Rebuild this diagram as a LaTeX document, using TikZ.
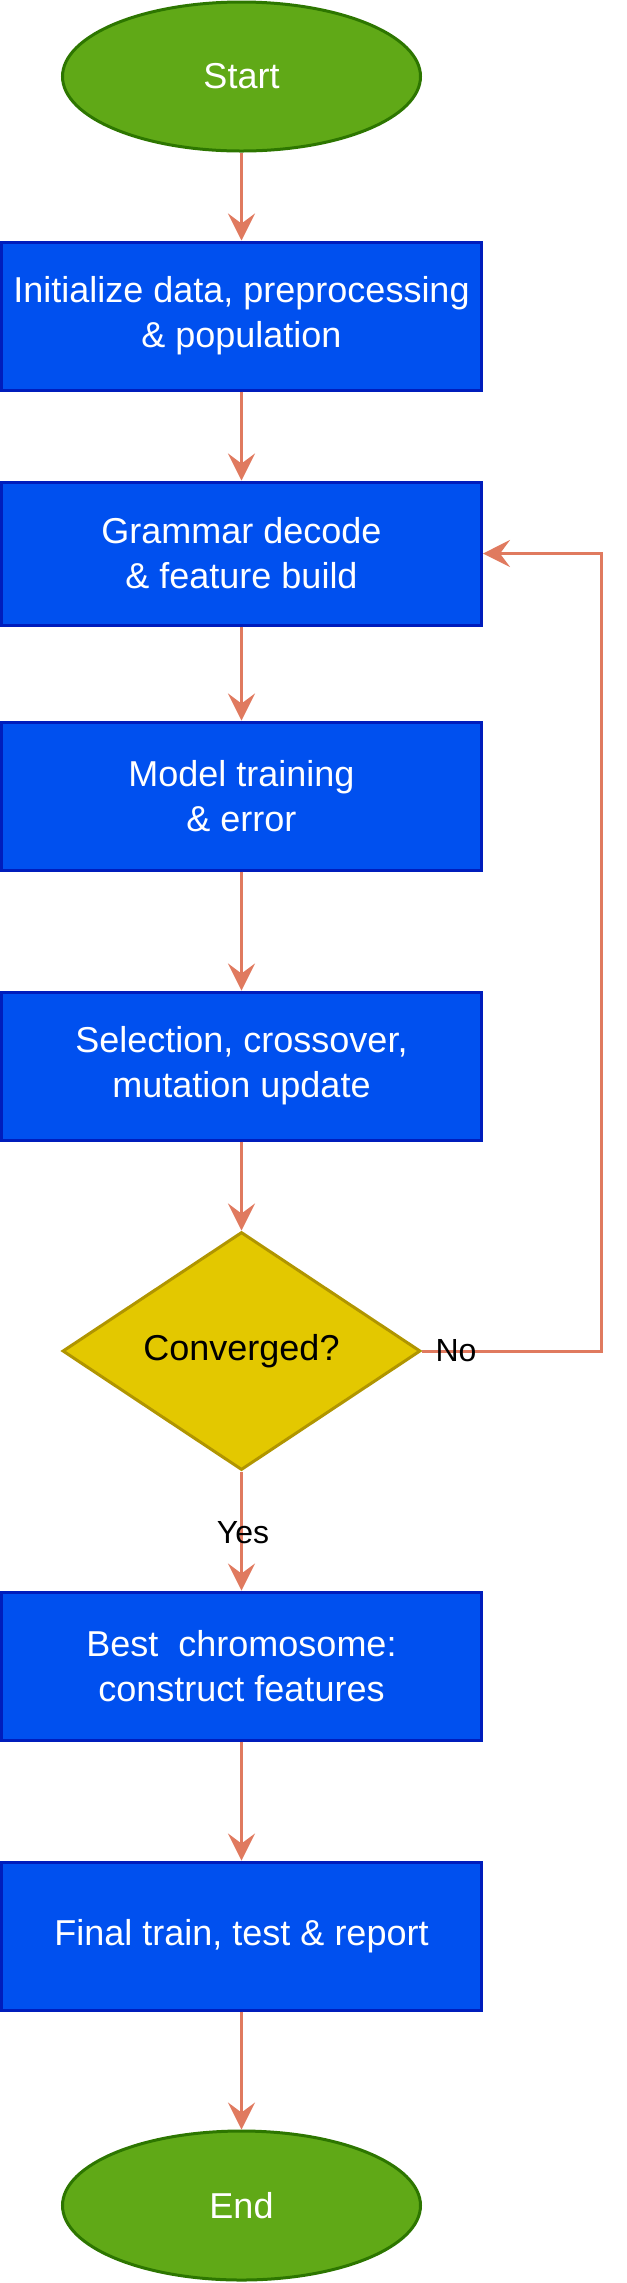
\documentclass[tikz,border=0pt]{standalone}
\usepackage{fontspec}
\setmainfont{Liberation Sans}
\usepackage{tikz}
\usetikzlibrary{shapes.geometric}
\usetikzlibrary{positioning}
\usetikzlibrary{calc}
\usetikzlibrary{arrows.meta}
\definecolor{bfill}{HTML}{0050EF}
\definecolor{bline}{HTML}{001DBC}
\definecolor{gfill}{HTML}{60A917}
\definecolor{gline}{HTML}{2D7600}
\definecolor{yfill}{HTML}{E3C800}
\definecolor{yline}{HTML}{B09500}
\definecolor{aline}{HTML}{E07A5F}
\tikzset{every picture/.style={line width=1.5pt}}

\begin{document}
\begin{tikzpicture}[x=0.5pt,y=-0.5pt,bx/.style={rectangle, minimum width=240pt, minimum height=74pt, inner sep=2pt, fill=bfill, draw=bline, text=white, align=center, font=\fontsize{18}{22.5}\selectfont},te/.style={ellipse, minimum width=179pt, minimum height=74.5pt, fill=gfill, draw=gline, text=white, font=\fontsize{18}{22.5}\selectfont},dc/.style={diamond, aspect=1.5, minimum width=179pt, minimum height=119pt, inner sep=0pt, fill=yfill, draw=yline, font=\fontsize{18}{22.5}\selectfont},ar/.style={-{Stealth[length=13.5pt,width=13.5pt,inset=5pt]}, draw=aline},lb/.style={font=\fontsize{16}{19}\selectfont}]
\useasboundingbox (0,0) rectangle (627,2283);
\node (st) at (241.5,76.5) [te] {Start};
\node (b1) at (241.5,316) [bx] {Initialize data, preprocessing\\\& population};
\node (b2) at (241.5,553.5) [bx,minimum height=71.5pt] {Grammar decode\\\& feature build};
\node (b3) at (241.5,796) [bx] {Model training\\\& error};
\node (b4) at (241.5,1066) [bx] {Selection, crossover,\\mutation update};
\node (cv) at (241.5,1351) [dc] {Converged?};
\node (b5) at (241.5,1666) [bx] {Best\ \ chromosome:\\construct features};
\node (b6) at (241.5,1936) [bx] {Final train, test \& report};
\node (en) at (241.5,2205.5) [te] {End};
\foreach \a/\b in {st/b1,b1/b2,b2/b3,b3/b4,b4/cv,cv/b5,b5/b6,b6/en} {
\draw[ar] (\a) -- (\b);
}
\coordinate (lp) at (601,553.5);
\draw[ar] (cv.east) -| (lp) -- (b2.east);
\node (no) at ($(cv)+(214.5,0)$) [lb] {No};
\node (yes) at ($(cv)+(1.5,182)$) [lb] {Yes};
\end{tikzpicture}
\end{document}
